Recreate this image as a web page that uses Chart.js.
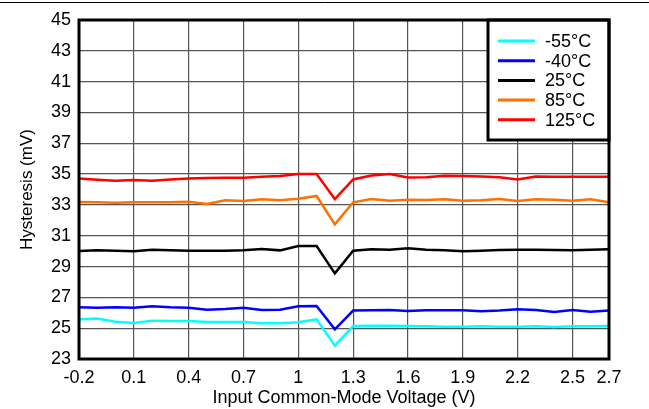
<!DOCTYPE html>
<html>
<head>
<meta charset="utf-8">
<script src="https://cdn.jsdelivr.net/npm/chart.js@4"></script>
<style>
  html, body { margin: 0; padding: 0; background: #fff; }
  canvas { display: block; }
</style>
</head>
<body>
<canvas id="hystChart" width="649" height="409"></canvas>
<script>
// Input common-mode voltage (V), one point every 0.1 V
const vcm = [-0.2, -0.1, 0, 0.1, 0.2, 0.3, 0.4, 0.5, 0.6, 0.7, 0.8, 0.9, 1.0, 1.1, 1.2,
             1.3, 1.4, 1.5, 1.6, 1.7, 1.8, 1.9, 2.0, 2.1, 2.2, 2.3, 2.4, 2.5, 2.6, 2.7];

// Hysteresis (mV) per temperature
const tMinus55 = [25.58, 25.62, 25.42, 25.34, 25.49, 25.47, 25.47, 25.40, 25.40, 25.40, 25.32, 25.32, 25.38, 25.58, 23.87,
                  25.14, 25.16, 25.16, 25.14, 25.12, 25.10, 25.10, 25.12, 25.10, 25.10, 25.12, 25.08, 25.12, 25.12, 25.14];
const tMinus40 = [26.36, 26.33, 26.36, 26.33, 26.42, 26.36, 26.33, 26.20, 26.25, 26.33, 26.18, 26.20, 26.42, 26.44, 24.93,
                  26.14, 26.16, 26.18, 26.12, 26.16, 26.16, 26.16, 26.10, 26.14, 26.23, 26.18, 26.05, 26.18, 26.07, 26.14];
const t25 = [30.01, 30.05, 30.03, 29.99, 30.09, 30.05, 30.03, 30.03, 30.03, 30.05, 30.14, 30.05, 30.33, 30.33, 28.56,
             30.03, 30.12, 30.09, 30.18, 30.09, 30.05, 29.99, 30.03, 30.07, 30.09, 30.09, 30.07, 30.05, 30.09, 30.12];
const t85 = [33.19, 33.17, 33.14, 33.17, 33.17, 33.17, 33.21, 33.06, 33.30, 33.25, 33.36, 33.30, 33.40, 33.58, 31.74,
             33.17, 33.38, 33.27, 33.34, 33.32, 33.36, 33.27, 33.30, 33.38, 33.25, 33.36, 33.34, 33.27, 33.36, 33.17];
const t125 = [34.72, 34.63, 34.56, 34.62, 34.56, 34.65, 34.72, 34.75, 34.77, 34.77, 34.82, 34.87, 35.0, 35.0, 33.38,
              34.65, 34.91, 35.0, 34.78, 34.80, 34.89, 34.87, 34.84, 34.80, 34.65, 34.84, 34.82, 34.82, 34.82, 34.82];

const seriesLabels = ['-55°C', '-40°C', '25°C', '85°C', '125°C'];
const seriesColors = ['#00ffff', '#0000ff', '#000000', '#ff7000', '#ff0000'];
const seriesValues = [tMinus55, tMinus40, t25, t85, t125];

// x axis tick positions / labels
const xTickValues = [-0.2, 0.1, 0.4, 0.7, 1.0, 1.3, 1.6, 1.9, 2.2, 2.5, 2.7];
const xTickLabels = ['-0.2', '0.1', '0.4', '0.7', '1', '1.3', '1.6', '1.9', '2.2', '2.5', '2.7'];

const FONT = 'Liberation Sans, Arial, sans-serif';

// frame, top rule and in-plot legend
const framePlugin = {
  id: 'frame',
  afterDraw(chart) {
    const { ctx, chartArea: a } = chart;
    ctx.save();
    // top rule across the page
    ctx.strokeStyle = '#000';
    ctx.lineWidth = 1;
    ctx.beginPath();
    ctx.moveTo(0, 2.5);
    ctx.lineTo(chart.width, 2.5);
    ctx.stroke();

    // legend box
    const w = 121, h = 120;
    const lx = a.right - w, ly = a.top;
    ctx.fillStyle = '#fff';
    ctx.fillRect(lx, ly, w, h);
    ctx.lineWidth = 3;
    ctx.strokeRect(lx, ly, w, h);
    ctx.font = '18px ' + FONT;
    ctx.textBaseline = 'middle';
    chart.data.datasets.forEach((ds, i) => {
      const y = ly + 21 + i * 19.7;
      ctx.strokeStyle = ds.borderColor;
      ctx.lineWidth = 3;
      ctx.beginPath();
      ctx.moveTo(lx + 10, y);
      ctx.lineTo(lx + 47, y);
      ctx.stroke();
      ctx.fillStyle = '#000';
      ctx.fillText(ds.label, lx + 57, y + 1);
    });

    // plot frame
    ctx.strokeStyle = '#000';
    ctx.lineWidth = 3;
    ctx.strokeRect(a.left, a.top, a.right - a.left, a.bottom - a.top);
    ctx.restore();
  }
};

new Chart(document.getElementById('hystChart').getContext('2d'), {
  type: 'line',
  data: {
    datasets: seriesValues.map((vals, i) => ({
      label: seriesLabels[i],
      data: vals.map((v, j) => ({ x: vcm[j], y: v })),
      borderColor: seriesColors[i],
      backgroundColor: seriesColors[i],
      borderWidth: 2.5,
      pointRadius: 0,
      tension: 0
    }))
  },
  options: {
    responsive: false,
    animation: false,
    layout: { padding: { top: 20, right: 40, left: 0, bottom: 0 } },
    plugins: {
      legend: { display: false },
      tooltip: { enabled: false }
    },
    scales: {
      x: {
        type: 'linear',
        min: -0.2,
        max: 2.7,
        afterBuildTicks: (scale) => {
          scale.ticks = xTickValues.map(v => ({ value: v }));
        },
        afterFit: (scale) => { scale.height = 50; },
        ticks: {
          color: '#000',
          font: { family: FONT, size: 18 },
          padding: 8,
          maxRotation: 0,
          autoSkip: false,
          callback: (value) => {
            const k = xTickValues.findIndex(t => Math.abs(t - value) < 1e-6);
            return k >= 0 ? xTickLabels[k] : '';
          }
        },
        grid: { color: '#555', lineWidth: 1.2, drawTicks: false },
        border: { display: false },
        title: {
          display: true,
          text: 'Input Common-Mode Voltage (V)',
          color: '#000',
          font: { family: FONT, size: 18 },
          padding: { top: 0, bottom: 0 }
        }
      },
      y: {
        min: 23,
        max: 45,
        afterFit: (scale) => { scale.width = 79; },
        ticks: {
          stepSize: 2,
          color: '#000',
          font: { family: FONT, size: 18 },
          padding: 8
        },
        grid: { color: '#555', lineWidth: 1.2, drawTicks: false },
        border: { display: false },
        title: {
          display: true,
          text: 'Hysteresis (mV)',
          color: '#000',
          font: { family: FONT, size: 17 },
          padding: { top: 17, bottom: 0 }
        }
      }
    }
  },
  plugins: [framePlugin]
});
</script>
</body>
</html>
